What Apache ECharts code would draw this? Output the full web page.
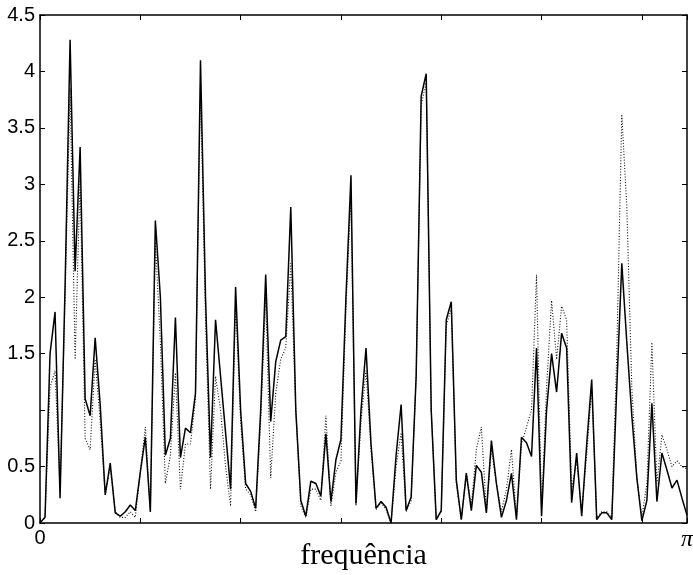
<!DOCTYPE html>
<html>
<head>
<meta charset="utf-8">
<script src="https://cdn.jsdelivr.net/npm/echarts@6/dist/echarts.min.js"></script>
<style>
html,body{margin:0;padding:0;background:#fff;}
#chart{width:693px;height:575px;}
</style>
</head>
<body>
<div id="chart"></div>
<script>
// sample index 0..129 maps frequency 0..pi
const xMax = 129;
const xTickStep = 20;
const yTickValues = [0, 0.5, 1, 1.5, 2, 2.5, 3, 3.5, 4, 4.5];
const hiddenYLabels = [1];
const xLabel = 'frequência';

const solid = [
 0, 0.05, 1.5, 1.87, 0.22, 2.1, 4.28, 2.23, 3.33, 1.1,
 0.95, 1.64, 1.05, 0.25, 0.53, 0.09, 0.06, 0.1, 0.16, 0.11,
 0.45, 0.76, 0.1, 2.68, 2.0, 0.6, 0.75, 1.82, 0.58, 0.84,
 0.8, 1.15, 4.1, 2.0, 0.58, 1.8, 1.3, 0.8, 0.3, 2.09,
 1.0, 0.35, 0.28, 0.13, 1.0, 2.2, 0.9, 1.43, 1.62, 1.65,
 2.8, 1.0, 0.2, 0.06, 0.37, 0.35, 0.24, 0.79, 0.19, 0.56,
 0.74, 2.0, 3.08, 0.17, 1.0, 1.55, 0.7, 0.13, 0.19, 0.14,
 0.0, 0.6, 1.05, 0.11, 0.23, 1.3, 3.78, 3.98, 1.0, 0.03,
 0.11, 1.8, 1.96, 0.38, 0.03, 0.44, 0.11, 0.51, 0.45, 0.09,
 0.73, 0.35, 0.05, 0.2, 0.44, 0.03, 0.76, 0.71, 0.59, 1.55,
 0.06, 1.0, 1.5, 1.16, 1.68, 1.55, 0.18, 0.62, 0.06, 0.7,
 1.27, 0.03, 0.09, 0.09, 0.03, 1.2, 2.3, 1.6, 0.95, 0.4,
 0.02, 0.2, 1.06, 0.19, 0.62, 0.47, 0.31, 0.38, 0.22, 0.07
];

const dotted = [
 0, 0.05, 1.2, 1.35, 0.3, 2.0, 3.85, 1.45, 3.05, 0.75,
 0.65, 1.45, 0.9, 0.25, 0.5, 0.1, 0.05, 0.05, 0.1, 0.05,
 0.45, 0.85, 0.1, 2.5, 1.6, 0.35, 0.6, 1.33, 0.3, 0.7,
 0.7, 1.1, 3.9, 1.8, 0.3, 1.3, 1.0, 0.5, 0.15, 1.95,
 0.9, 0.3, 0.25, 0.1, 0.9, 2.0, 0.4, 1.15, 1.45, 1.55,
 2.3, 1.0, 0.15, 0.05, 0.3, 0.3, 0.2, 0.95, 0.15, 0.45,
 0.55, 1.9, 2.9, 0.15, 0.9, 1.35, 0.65, 0.12, 0.18, 0.12,
 0.0, 0.5, 0.8, 0.1, 0.2, 1.3, 3.7, 3.9, 1.0, 0.03,
 0.1, 1.75, 1.9, 0.35, 0.03, 0.45, 0.15, 0.65, 0.85, 0.1,
 0.65, 0.35, 0.1, 0.3, 0.65, 0.05, 0.7, 0.85, 1.0, 2.2,
 0.1, 1.2, 1.97, 1.45, 1.92, 1.8, 0.3, 0.55, 0.1, 0.6,
 1.2, 0.05, 0.1, 0.1, 0.05, 1.5, 3.62, 2.8, 1.2, 0.4,
 0.05, 0.35, 1.6, 0.35, 0.78, 0.65, 0.5, 0.55, 0.5, 0.48
];

const chart = echarts.init(document.getElementById('chart'), null, {renderer: 'canvas'});
const axisLineStyle = {color: '#000', width: 1.5};
const tickStyle = {show: true, inside: true, length: 5, lineStyle: {color: '#000', width: 1}};
const yMin = yTickValues[0], yMax = yTickValues[yTickValues.length - 1];
const yStep = yTickValues[1] - yTickValues[0];
const sansFont = '"Liberation Sans Narrow", "Liberation Sans", Arial, sans-serif';
const serifFont = '"Liberation Serif", "Times New Roman", serif';

chart.setOption({
  animation: false,
  backgroundColor: '#fff',
  grid: {left: 40, right: 6, top: 15, bottom: 52, containLabel: false, outerBoundsMode: 'none'},
  xAxis: [{
    type: 'value', min: 0, max: xMax, interval: xTickStep, position: 'bottom',
    axisLine: {show: true, onZero: false, lineStyle: axisLineStyle},
    axisTick: tickStyle,
    splitLine: {show: false},
    axisLabel: {
      show: true, showMinLabel: true, showMaxLabel: true, margin: 5,
      color: '#000',
      formatter: function (v) { return v === 0 ? '{n|0}' : (v === xMax ? '{p|π}' : ''); },
      rich: {
        n: {fontFamily: sansFont, fontSize: 20, color: '#000'},
        p: {fontFamily: serifFont, fontStyle: 'italic', fontSize: 24, color: '#000'}
      }
    },
    name: xLabel, nameLocation: 'middle', nameGap: 18, nameMoveOverlap: false,
    nameTextStyle: {fontFamily: serifFont, fontSize: 30, color: '#000', verticalAlign: 'top'}
  }, {
    type: 'value', min: 0, max: xMax, interval: xTickStep, position: 'top',
    axisLine: {show: true, onZero: false, lineStyle: axisLineStyle},
    axisTick: tickStyle,
    axisLabel: {show: false}, splitLine: {show: false}
  }],
  yAxis: [{
    type: 'value', min: yMin, max: yMax, interval: yStep, position: 'left',
    axisLine: {show: true, onZero: false, lineStyle: axisLineStyle},
    axisTick: tickStyle,
    splitLine: {show: false},
    axisLabel: {
      margin: 5, color: '#000', fontFamily: sansFont, fontSize: 20,
      showMaxLabel: true, showMinLabel: true,
      formatter: function (v) { return hiddenYLabels.indexOf(v) >= 0 ? '' : String(v); }
    }
  }, {
    type: 'value', min: yMin, max: yMax, interval: yStep, position: 'right',
    axisLine: {show: true, onZero: false, lineStyle: axisLineStyle},
    axisTick: tickStyle,
    axisLabel: {show: false}, splitLine: {show: false}
  }],
  series: [{
    type: 'line', name: 'dotted', xAxisIndex: 0, yAxisIndex: 0,
    data: dotted.map(function (v, i) { return [i, v]; }),
    showSymbol: false, symbol: 'none',
    lineStyle: {color: '#111', width: 1.1, type: [1, 1.8]}
  }, {
    type: 'line', name: 'solid', xAxisIndex: 0, yAxisIndex: 0,
    data: solid.map(function (v, i) { return [i, v]; }),
    showSymbol: false, symbol: 'none',
    lineStyle: {color: '#000', width: 1.5, type: 'solid'}
  }]
});
</script>
</body>
</html>
